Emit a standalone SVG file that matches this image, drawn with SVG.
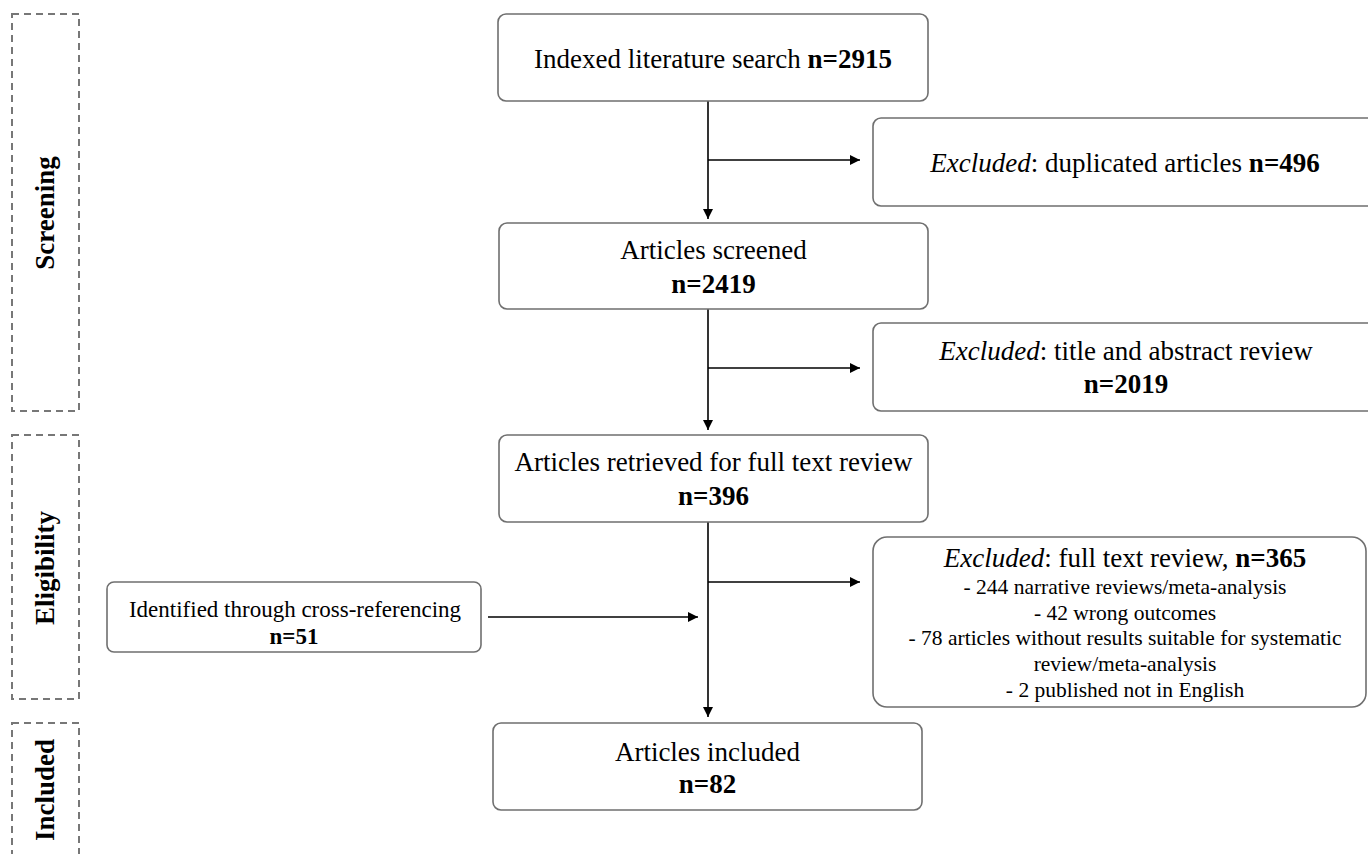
<svg xmlns="http://www.w3.org/2000/svg" width="1368" height="854" viewBox="0 0 1368 854">
<style>
.box{fill:#fff;stroke:#6f6f6f;stroke-width:1.6}
.phase{fill:none;stroke:#777;stroke-width:2;stroke-dasharray:7,5}
.t{font-family:"Liberation Serif","Times New Roman",serif;font-size:27px;fill:#000;text-anchor:middle}
.s{font-size:21.5px}
.x{font-size:23px}
.b{font-weight:bold}
.i{font-style:italic}
.lbl{font-family:"Liberation Serif","Times New Roman",serif;font-size:27px;font-weight:bold;fill:#000;text-anchor:middle}
.c{fill:none;stroke:#000;stroke-width:1.6}
</style>
<defs>
<marker id="ah" markerUnits="userSpaceOnUse" markerWidth="11" markerHeight="10" refX="10" refY="5" orient="auto">
<path d="M0,0 L10,5 L0,10 z" fill="#000"/>
</marker>
</defs>
<rect width="1368" height="854" fill="#fff"/>

<g id="phase-screening">
<rect class="phase" x="12" y="14" width="67" height="397"/>
<text class="lbl" transform="translate(54,213) rotate(-90)">Screening</text>
</g>
<g id="phase-eligibility">
<rect class="phase" x="12" y="435" width="67" height="264"/>
<text class="lbl" transform="translate(54,568) rotate(-90)">Eligibility</text>
</g>
<g id="phase-included">
<rect class="phase" x="12" y="723" width="67" height="150"/>
<text class="lbl" transform="translate(54,790) rotate(-90)">Included</text>
</g>

<g id="connectors">
<line class="c" x1="708" y1="101" x2="708" y2="219" marker-end="url(#ah)"/>
<line class="c" x1="708" y1="160" x2="860" y2="160" marker-end="url(#ah)"/>
<line class="c" x1="708" y1="309" x2="708" y2="430" marker-end="url(#ah)"/>
<line class="c" x1="708" y1="368" x2="860" y2="368" marker-end="url(#ah)"/>
<line class="c" x1="708" y1="522" x2="708" y2="717" marker-end="url(#ah)"/>
<line class="c" x1="708" y1="582" x2="860" y2="582" marker-end="url(#ah)"/>
<line class="c" x1="488" y1="617" x2="698" y2="617" marker-end="url(#ah)"/>
</g>

<g id="n-search">
<rect class="box" x="498" y="14" width="430" height="87" rx="8"/>
<text class="t" x="713" y="68">Indexed literature search <tspan class="b">n=2915</tspan></text>
</g>
<g id="n-dup">
<rect class="box" x="873" y="118" width="506" height="88" rx="8"/>
<text class="t" x="1125" y="172"><tspan class="i">Excluded</tspan>: duplicated articles <tspan class="b">n=496</tspan></text>
</g>
<g id="n-screened">
<rect class="box" x="499" y="223" width="429" height="86" rx="8"/>
<text class="t" x="713.5" y="259">Articles screened</text>
<text class="t b" x="713.5" y="293">n=2419</text>
</g>
<g id="n-title">
<rect class="box" x="873" y="323" width="506" height="88" rx="8"/>
<text class="t" x="1126" y="360"><tspan class="i">Excluded</tspan>: title and abstract review</text>
<text class="t b" x="1126" y="393">n=2019</text>
</g>
<g id="n-retrieved">
<rect class="box" x="499" y="435" width="429" height="87" rx="8"/>
<text class="t" x="713.5" y="471">Articles retrieved for full text review</text>
<text class="t b" x="713.5" y="505">n=396</text>
</g>
<g id="n-fulltext">
<rect class="box" x="873" y="537" width="493" height="170" rx="14"/>
<text class="t" x="1125" y="567"><tspan class="i">Excluded</tspan>: full text review, <tspan class="b">n=365</tspan></text>
<text class="t s" x="1125" y="594">- 244 narrative reviews/meta-analysis</text>
<text class="t s" x="1125" y="620">- 42 wrong outcomes</text>
<text class="t s" x="1125" y="645">- 78 articles without results suitable for systematic</text>
<text class="t s" x="1125" y="671">review/meta-analysis</text>
<text class="t s" x="1125" y="697">- 2 published not in English</text>
</g>
<g id="n-crossref">
<rect class="box" x="107" y="582" width="374" height="70" rx="7"/>
<text class="t x" x="295" y="617">Identified through cross-referencing</text>
<text class="t x b" x="294" y="644">n=51</text>
</g>
<g id="n-included">
<rect class="box" x="493" y="723" width="429" height="87" rx="8"/>
<text class="t" x="707.5" y="761">Articles included</text>
<text class="t b" x="707.5" y="793">n=82</text>
</g>
</svg>
